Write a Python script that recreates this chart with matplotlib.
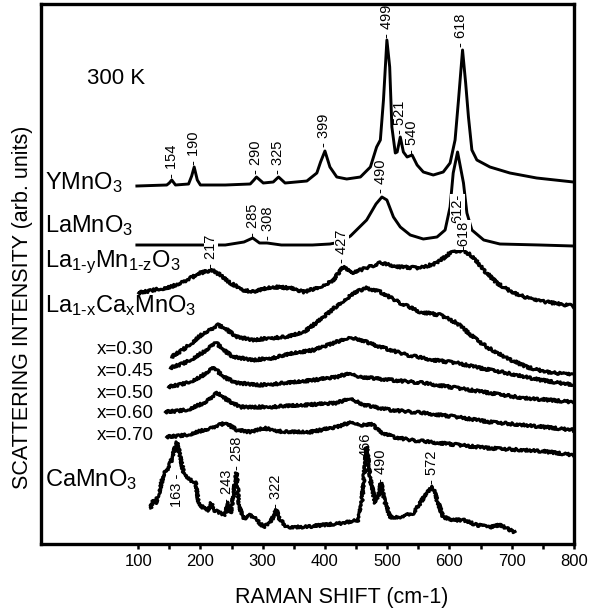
import numpy as np
import matplotlib.pyplot as plt

plt.rcParams['font.family'] = ['Liberation Sans', 'DejaVu Sans']
plt.rcParams['mathtext.fontset'] = 'custom'
plt.rcParams['mathtext.rm'] = 'Liberation Sans'
plt.rcParams['mathtext.default'] = 'regular'

# spectra: raman shift (cm-1), intensity (arb. units, offset)
ymno3_x = [98, 146, 150, 154, 160, 181, 186, 190, 195, 200, 240, 280, 286, 290, 301, 317, 322, 325.5, 336, 371, 387,
           393, 400, 408, 419, 435, 457, 473, 483, 489, 494, 499.5, 504, 507.5, 513, 516, 521, 526, 532, 540, 548,
           558, 574, 590, 601, 609, 614.5, 621, 626, 630.5, 636, 644, 665, 697, 740, 799]
ymno3_y = [358, 359, 361, 364, 359, 360, 368, 377, 364, 359, 359, 360, 364, 367, 361, 362, 365, 367, 361, 363, 371,
           382, 393, 377, 367, 365, 367, 377, 397, 404, 444, 504, 477, 417, 391, 392, 407, 392, 387, 389, 379,
           372, 369, 372, 381, 404, 444, 494, 461, 427, 394, 384, 377, 371, 366, 362]

lamno3_x = [98, 150, 200, 240, 270, 284, 295, 307, 330, 380, 408, 425, 441, 467, 482, 491.5, 499.5, 510, 521, 537,
            558, 580, 593, 601, 606, 613, 622.5, 628, 636, 655, 681, 745, 799]
lamno3_y = [299, 299, 299, 299, 302, 306, 301, 301, 299, 299, 300, 302, 308, 324, 340, 347, 344, 327, 317, 309,
            305, 307, 314, 337, 371, 392, 361, 331, 314, 304, 300, 299, 298]

lamn_x = [101, 125, 152, 178, 200, 218, 232, 248, 269, 285, 307, 323, 344, 366, 392, 414, 430, 441, 457, 489, 521,
          553, 580, 601, 622, 638, 655, 676, 703, 735, 767, 799]
lamn_y = [251, 254, 257, 264, 271, 274, 269, 261, 254, 252, 256, 257, 256, 252, 257, 264, 278, 271, 274, 281, 277,
          276, 281, 291, 294, 287, 274, 261, 251, 244, 241, 238]

x030_x = [154, 178, 205, 229, 243, 259, 285, 312, 339, 366, 392, 419, 446, 467, 489, 521, 553, 585, 612, 638, 660,
          692, 724, 756, 799]
x030_y = [187, 197, 211, 219, 214, 207, 204, 206, 207, 212, 224, 238, 251, 256, 252, 241, 232, 229, 221, 207, 197,
          186, 177, 172, 169]

x045_x = [152, 178, 205, 224, 237, 253, 285, 317, 350, 382, 414, 441, 457, 489, 532, 574, 612, 649, 692, 746, 799]
x045_y = [176, 182, 192, 202, 194, 187, 184, 186, 191, 194, 201, 207, 204, 197, 189, 184, 181, 176, 171, 164, 159]

x050_x = [149, 178, 200, 221, 237, 259, 296, 339, 382, 419, 441, 457, 505, 558, 612, 665, 719, 799]
x050_y = [157, 161, 167, 177, 167, 161, 159, 161, 164, 167, 171, 167, 164, 161, 156, 151, 146, 142]

x060_x = [144, 178, 205, 227, 243, 264, 312, 366, 419, 441, 462, 505, 558, 612, 665, 719, 799]
x060_y = [132, 134, 141, 151, 144, 137, 137, 139, 141, 146, 139, 134, 131, 127, 122, 119, 114]

x070_x = [146, 178, 216, 240, 259, 280, 301, 334, 376, 419, 443, 459, 475, 489, 510, 537, 600, 660, 746, 799]
x070_y = [107, 109, 116, 121, 114, 112, 116, 112, 112, 117, 122, 119, 120, 112, 107, 104, 100, 96, 93, 89]

camno3_x = [120, 125, 128, 136, 141, 146, 152, 157, 162, 168, 173, 184, 192, 197, 205, 213, 217.5, 221, 232, 240,
            243, 249, 258, 261, 267, 275, 280, 291, 301, 312, 322, 328, 339, 366, 398, 430, 454, 459, 467, 473,
            481, 484, 490, 497, 505, 521, 542, 553, 564, 573, 580, 590, 606, 622, 644, 665, 681, 697, 705]
camno3_y = [36, 44, 40, 57, 71, 74, 81, 91, 102, 87, 71, 64, 61, 41, 36, 34, 41, 34, 31, 29,
            42, 31, 71, 44, 27, 26, 29, 24, 17, 21, 34, 24, 17, 17, 19, 21, 24, 41, 97, 64,
            41, 44, 61, 41, 27, 27, 31, 41, 52, 57, 44, 27, 24, 24, 19, 17, 19, 14, 12]

# sample labels: text, left x, y
sample_names = ['YMnO$_3$', 'LaMnO$_3$', r'La$_{1\text{-}y}$Mn$_{1\text{-}z}$O$_3$',
                'La$_{1\\text{-}x}$Ca$_x$MnO$_3$', 'CaMnO$_3$']
sample_pos = [(-49, 361), (-49, 318), (-49, 282), (-49, 238), (-49, 64)]
conc_names = ['x=0.30', 'x=0.45', 'x=0.50', 'x=0.60', 'x=0.70']
conc_y = [194, 172, 151, 131, 109]

# peak labels: text, x, y anchor, vertical alignment
peak_text = ['- 154', '- 190', '- 290', '- 325', '- 399', '- 499', '- 521', '- 540', '- 618',
             '- 490', '- 285', '- 308', '- 217', '- 427', '612-', '-618',
             '163 -', '- 243', '- 258', '- 322', '466', '- 490', '- 572']
peak_x = [154, 190, 290, 325, 399, 499, 521, 540, 618,
          490, 285, 308, 217, 427, 613, 622,
          162, 243, 258, 322, 465, 490, 572]
peak_y = [366, 379, 370, 370, 397, 506, 410, 390, 497,
          351, 307, 304, 276, 281, 350, 294,
          70, 41, 74, 36, 87, 61, 60]
peak_va = ['bottom'] * 14 + ['top', 'bottom', 'top'] + ['bottom'] * 6
peak_box = [False] * 12 + [True, True, True, True] + [False] * 7

fig = plt.figure(figsize=(5.89, 6.14), dpi=100)
ax = fig.add_axes([41 / 589, 1 - 544 / 614, 533 / 589, 540 / 614])

smooth = [(ymno3_x, ymno3_y), (lamno3_x, lamno3_y)]
noisy = [(lamn_x, lamn_y), (x030_x, x030_y), (x045_x, x045_y), (x050_x, x050_y),
         (x060_x, x060_y), (x070_x, x070_y), (camno3_x, camno3_y)]

for xs, ys in smooth:
    ax.plot(xs, ys, color='black', lw=2.1, solid_joinstyle='round', zorder=2)
for xs, ys in noisy:
    l, = ax.plot(xs, ys, color='black', lw=2.2, solid_joinstyle='round', zorder=2)
    l.set_sketch_params(scale=1.3, length=1.5, randomness=2.0)

for name, (px, py) in zip(sample_names, sample_pos):
    ax.text(px, py, name, fontsize=17, ha='left', va='center')
for name, py in zip(conc_names, conc_y):
    ax.text(34, py, name, fontsize=13.5, ha='left', va='center')
ax.text(18, 466, '300 K', fontsize=16, ha='left', va='center')

for t, px, py, va, box in zip(peak_text, peak_x, peak_y, peak_va, peak_box):
    kw = {}
    if box:
        kw['bbox'] = dict(facecolor='white', edgecolor='none', pad=0.3)
    ax.text(px, py, t, fontsize=10.5, rotation=90, ha='center', va=va, zorder=3, **kw)

ax.set_xlim(-56, 800)
ax.set_ylim(0, 540)
ax.set_yticks([])
ax.set_xticks(np.arange(100, 801, 100))
ax.set_xticks(np.arange(150, 800, 100), minor=True)
ax.tick_params(axis='x', which='both', direction='out', length=3.5, width=1.8, labelsize=12, pad=4)
for s in ax.spines.values():
    s.set_linewidth(2.4)

fig.text(342 / 589, 1 - 598 / 614, 'RAMAN SHIFT (cm-1)', fontsize=15.5, ha='center', va='center')
fig.text(23 / 589, 0.5, 'SCATTERING INTENSITY (arb. units)', fontsize=15.5, rotation=90,
         ha='center', va='center')

fig.savefig('out.png', dpi=100)
